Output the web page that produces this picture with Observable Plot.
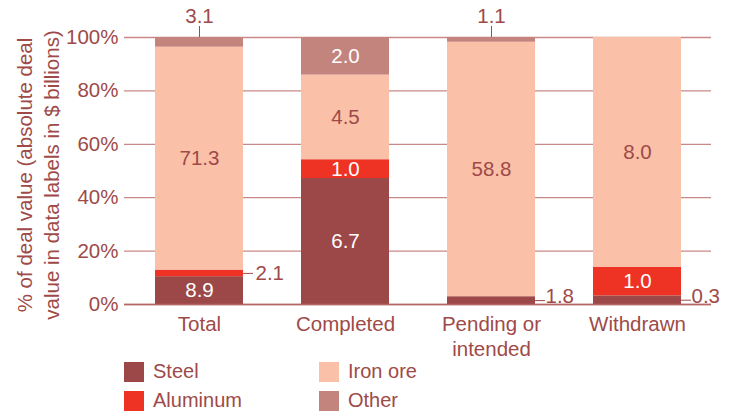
<!DOCTYPE html>
<html>
<head>
<meta charset="utf-8">
<script src="https://cdn.jsdelivr.net/npm/d3@7"></script>
<script src="https://cdn.jsdelivr.net/npm/@observablehq/plot@0.6"></script>
<style>
  html, body { margin: 0; padding: 0; background: #fff; }
  body { width: 738px; height: 413px; overflow: hidden; font-family: "Liberation Sans", Arial, sans-serif; color: #9e4a48; }
  #legend { position: relative; height: 57px; font-size: 20px; }
  .item { position: absolute; display: flex; align-items: center; height: 29px; }
  .sw { width: 20px; height: 20px; margin-right: 9px; }
</style>
</head>
<body>
<div id="chart"></div>
<div id="legend"></div>
<script>
// ---- data (deal value, $ billions) ----
const categories = ["Total", "Completed", "Pending or\nintended", "Withdrawn"];
const series = ["Steel", "Aluminum", "Iron ore", "Other"];
const steel    = [8.9, 6.7, 1.8, 0.3];
const aluminum = [2.1, 1.0, 0.0, 1.0];
const ironOre  = [71.3, 4.5, 58.8, 8.0];
const other    = [3.1, 2.0, 1.1, 0.0];
const yTicks = [0, 0.2, 0.4, 0.6, 0.8, 1.0];
const yTitle = "% of deal value (absolute deal\nvalue in data labels in $ billions)";

const colors = ["#9c4848", "#ee3224", "#fac0a8", "#c4847e"];
const textColor = "#9e4a48";
const gridColor = "#c88a88";

const values = [steel, aluminum, ironOre, other];
const rows = [];
categories.forEach((c, i) => {
  const total = d3.sum(values, v => v[i]);
  let cum = 0;
  series.forEach((s, j) => {
    const v = values[j][i];
    rows.push({category: c, series: s, value: v, y1: cum / total, y2: (cum + v) / total, share: v / total, top: j === series.length - 1});
    cum += v;
  });
});
const mid = d => (d.y1 + d.y2) / 2;
const fmt = d => d.value.toFixed(1);
const small = d => d.value > 0 && d.share < 0.05;
const inside = rows.filter(d => d.value > 0 && !small(d));
const above = rows.filter(d => small(d) && d.top);
const right = rows.filter(d => small(d) && !d.top);

const W = 738, ML = 124, MR = 27;
const step = (W - ML - MR) / categories.length;
const bw = step * 0.6;

const chart = Plot.plot({
  width: W,
  height: 356,
  marginLeft: ML,
  marginRight: MR,
  marginTop: 37,
  marginBottom: 52,
  style: {fontFamily: "'Liberation Sans', Arial, sans-serif", fontSize: "20.5px", color: textColor, background: "white", overflow: "visible"},
  x: {domain: categories, paddingInner: 0.4, paddingOuter: 0.2, axis: null},
  y: {domain: [0, 1], axis: null},
  color: {domain: series, range: colors},
  marks: [
    Plot.ruleY(yTicks, {stroke: gridColor, strokeWidth: 1.3}),
    Plot.barY(rows, {x: "category", y1: "y1", y2: "y2", fill: "series"}),
    Plot.ruleY([0], {stroke: "#b86664", strokeWidth: 1.6}),
    // y tick labels
    Plot.text(yTicks, {y: d => d, text: d => Math.round(d * 100) + "%", frameAnchor: "left", textAnchor: "end", dx: -6, fill: textColor}),
    // x tick labels
    Plot.text(categories, {x: d => d, text: d => d, frameAnchor: "bottom", lineAnchor: "top", dy: 9, lineHeight: 1.22, fill: textColor}),
    // y title
    Plot.text([yTitle], {frameAnchor: "left", text: d => d, rotate: -90, lineAnchor: "middle", textAnchor: "middle", dx: -88, dy: 4, lineHeight: 1.32, fill: textColor}),
    // inside labels
    Plot.text(inside.filter(d => d.series === "Iron ore"), {x: "category", y: mid, text: fmt, fill: textColor}),
    Plot.text(inside.filter(d => d.series !== "Iron ore"), {x: "category", y: mid, text: fmt, fill: "white"}),
    // above labels with leader
    Plot.ruleX(above, {x: "category", y1: "y2", y2: "y2", insetTop: -11, stroke: textColor, strokeWidth: 1}),
    Plot.text(above, {x: "category", y: "y2", text: fmt, dy: -21, fill: textColor}),
    // right labels with leader
    Plot.ruleY(right, {y: mid, x1: "category", x2: "category", insetLeft: bw, insetRight: -10, stroke: textColor, strokeWidth: 1}),
    Plot.text(right.filter(d => d.y1 > 0), {x: "category", y: mid, text: fmt, textAnchor: "start", dx: bw / 2 + 12, fill: textColor}),
    Plot.text(right.filter(d => d.y1 === 0), {x: "category", y: mid, text: fmt, textAnchor: "start", dx: bw / 2 + 10, dy: -4, fill: textColor})
  ]
});
document.getElementById("chart").appendChild(chart);

// legend
const legend = document.getElementById("legend");
const legendPos = [[124, 1], [124, 30], [319, 1], [319, 30]];
series.forEach((s, j) => {
  const item = document.createElement("div");
  item.className = "item";
  item.style.left = legendPos[j][0] + "px";
  item.style.top = legendPos[j][1] + "px";
  item.innerHTML = `<div class="sw" style="background:${colors[j]}"></div><span>${s}</span>`;
  legend.appendChild(item);
});
</script>
</body>
</html>
